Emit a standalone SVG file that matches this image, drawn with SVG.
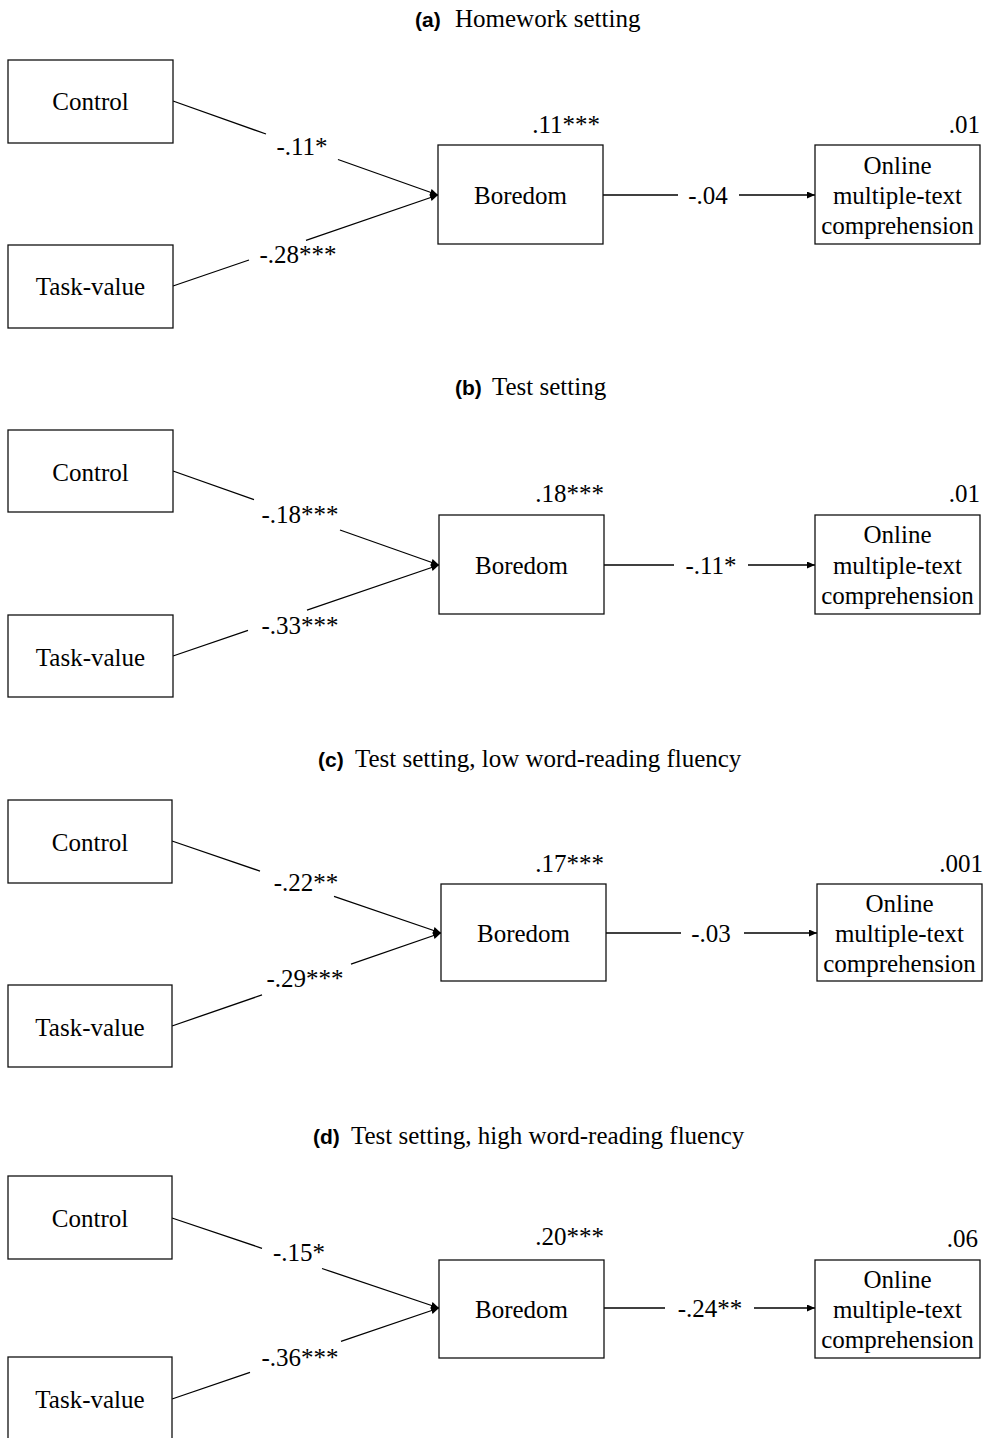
<svg xmlns="http://www.w3.org/2000/svg" width="991" height="1438" viewBox="0 0 991 1438">
<defs>
<marker id="ah" markerUnits="userSpaceOnUse" markerWidth="9" markerHeight="8" refX="8" refY="3.5" orient="auto">
<path d="M0,0 L8,3.5 L0,7 z" fill="#000"/>
</marker>
<style>
.box{fill:#fff;stroke:#111;stroke-width:1.3}
.t{font-family:"Liberation Serif","Times New Roman",serif;font-size:25px;fill:#000}
.m{text-anchor:middle}
.e{text-anchor:end}
.lab{font-family:"Liberation Sans",Arial,sans-serif;font-weight:bold;font-size:21px;fill:#000}
.ln{stroke:#000;stroke-width:1.3;fill:none}
.ar{marker-end:url(#ah)}
</style>
</defs>
<rect width="991" height="1438" fill="#fff"/>

<!-- Titles -->
<g id="title-a"><text class="lab" x="415" y="27">(a)</text><text class="t" x="455" y="27">Homework setting</text></g>
<g id="title-b"><text class="lab" x="455" y="395">(b)</text><text class="t" x="492" y="395">Test setting</text></g>
<g id="title-c"><text class="lab" x="318" y="767">(c)</text><text class="t" x="355" y="767">Test setting, low word-reading fluency</text></g>
<g id="title-d"><text class="lab" x="313" y="1144">(d)</text><text class="t" x="351" y="1144">Test setting, high word-reading fluency</text></g>

<!-- Connectors -->
<g id="connectors">
<!-- a -->
<line class="ln" x1="173" y1="101" x2="266" y2="134"/><line class="ln ar" x1="338" y1="159.5" x2="438" y2="195"/>
<line class="ln" x1="173" y1="286" x2="249" y2="260"/><line class="ln ar" x1="306" y1="240.3" x2="438" y2="195"/>
<line class="ln" x1="603" y1="195" x2="678" y2="195"/><line class="ln ar" x1="739" y1="195" x2="815" y2="195"/>
<!-- b -->
<line class="ln" x1="173" y1="471" x2="254" y2="499.6"/><line class="ln ar" x1="340" y1="530" x2="439" y2="565"/>
<line class="ln" x1="173" y1="656" x2="248" y2="630.3"/><line class="ln ar" x1="307" y1="610.2" x2="439" y2="565"/>
<line class="ln" x1="604" y1="565" x2="674" y2="565"/><line class="ln ar" x1="748" y1="565" x2="815" y2="565"/>
<!-- c -->
<line class="ln" x1="172" y1="841" x2="260" y2="871.1"/><line class="ln ar" x1="334" y1="896.4" x2="441" y2="933"/>
<line class="ln" x1="172" y1="1026" x2="262" y2="994.9"/><line class="ln ar" x1="351" y1="964.1" x2="441" y2="933"/>
<line class="ln" x1="606" y1="933" x2="681" y2="933"/><line class="ln ar" x1="744" y1="933" x2="817" y2="933"/>
<!-- d -->
<line class="ln" x1="172" y1="1218" x2="262" y2="1248.3"/><line class="ln ar" x1="322" y1="1268.5" x2="439" y2="1308"/>
<line class="ln" x1="172" y1="1399" x2="250" y2="1372.4"/><line class="ln ar" x1="341" y1="1341.4" x2="439" y2="1308"/>
<line class="ln" x1="604" y1="1308" x2="665" y2="1308"/><line class="ln ar" x1="754" y1="1308" x2="815" y2="1308"/>
<!-- path coefficients -->
<text class="t m" x="302" y="155">-.11*</text>
<text class="t m" x="298" y="263">-.28***</text>
<text class="t m" x="708" y="204">-.04</text>
<text class="t m" x="300" y="523">-.18***</text>
<text class="t m" x="300" y="634">-.33***</text>
<text class="t m" x="711" y="574">-.11*</text>
<text class="t m" x="306" y="891">-.22**</text>
<text class="t m" x="305" y="987">-.29***</text>
<text class="t m" x="711" y="942">-.03</text>
<text class="t m" x="299" y="1261">-.15*</text>
<text class="t m" x="300" y="1366">-.36***</text>
<text class="t m" x="710" y="1317">-.24**</text>
</g>

<!-- Panel a nodes -->
<g id="a-control"><rect class="box" x="8" y="60" width="165" height="83"/><text class="t m" x="90.5" y="110">Control</text></g>
<g id="a-taskvalue"><rect class="box" x="8" y="245" width="165" height="83"/><text class="t m" x="90.5" y="295">Task-value</text></g>
<g id="a-boredom"><rect class="box" x="438" y="145" width="165" height="99"/><text class="t m" x="520.5" y="204">Boredom</text><text class="t e" x="600" y="133">.11***</text></g>
<g id="a-online"><rect class="box" x="815" y="145" width="165" height="99"/><text class="t m" x="897.5" y="174">Online</text><text class="t m" x="897.5" y="204">multiple-text</text><text class="t m" x="897.5" y="234">comprehension</text><text class="t e" x="980" y="133">.01</text></g>

<!-- Panel b nodes -->
<g id="b-control"><rect class="box" x="8" y="430" width="165" height="82"/><text class="t m" x="90.5" y="481">Control</text></g>
<g id="b-taskvalue"><rect class="box" x="8" y="615" width="165" height="82"/><text class="t m" x="90.5" y="666">Task-value</text></g>
<g id="b-boredom"><rect class="box" x="439" y="515" width="165" height="99"/><text class="t m" x="521.5" y="574">Boredom</text><text class="t e" x="604" y="502">.18***</text></g>
<g id="b-online"><rect class="box" x="815" y="515" width="165" height="99"/><text class="t m" x="897.5" y="543">Online</text><text class="t m" x="897.5" y="574">multiple-text</text><text class="t m" x="897.5" y="604">comprehension</text><text class="t e" x="980" y="502">.01</text></g>

<!-- Panel c nodes -->
<g id="c-control"><rect class="box" x="8" y="800" width="164" height="83"/><text class="t m" x="90" y="851">Control</text></g>
<g id="c-taskvalue"><rect class="box" x="8" y="985" width="164" height="82"/><text class="t m" x="90" y="1036">Task-value</text></g>
<g id="c-boredom"><rect class="box" x="441" y="884" width="165" height="97"/><text class="t m" x="523.5" y="942">Boredom</text><text class="t e" x="604" y="872">.17***</text></g>
<g id="c-online"><rect class="box" x="817" y="884" width="165" height="97"/><text class="t m" x="899.5" y="912">Online</text><text class="t m" x="899.5" y="942">multiple-text</text><text class="t m" x="899.5" y="972">comprehension</text><text class="t e" x="983" y="872">.001</text></g>

<!-- Panel d nodes -->
<g id="d-control"><rect class="box" x="8" y="1176" width="164" height="83"/><text class="t m" x="90" y="1227">Control</text></g>
<g id="d-taskvalue"><rect class="box" x="8" y="1357" width="164" height="90"/><text class="t m" x="90" y="1408">Task-value</text></g>
<g id="d-boredom"><rect class="box" x="439" y="1260" width="165" height="98"/><text class="t m" x="521.5" y="1318">Boredom</text><text class="t e" x="604" y="1245">.20***</text></g>
<g id="d-online"><rect class="box" x="815" y="1260" width="165" height="98"/><text class="t m" x="897.5" y="1288">Online</text><text class="t m" x="897.5" y="1318">multiple-text</text><text class="t m" x="897.5" y="1348">comprehension</text><text class="t e" x="978" y="1247">.06</text></g>
</svg>
